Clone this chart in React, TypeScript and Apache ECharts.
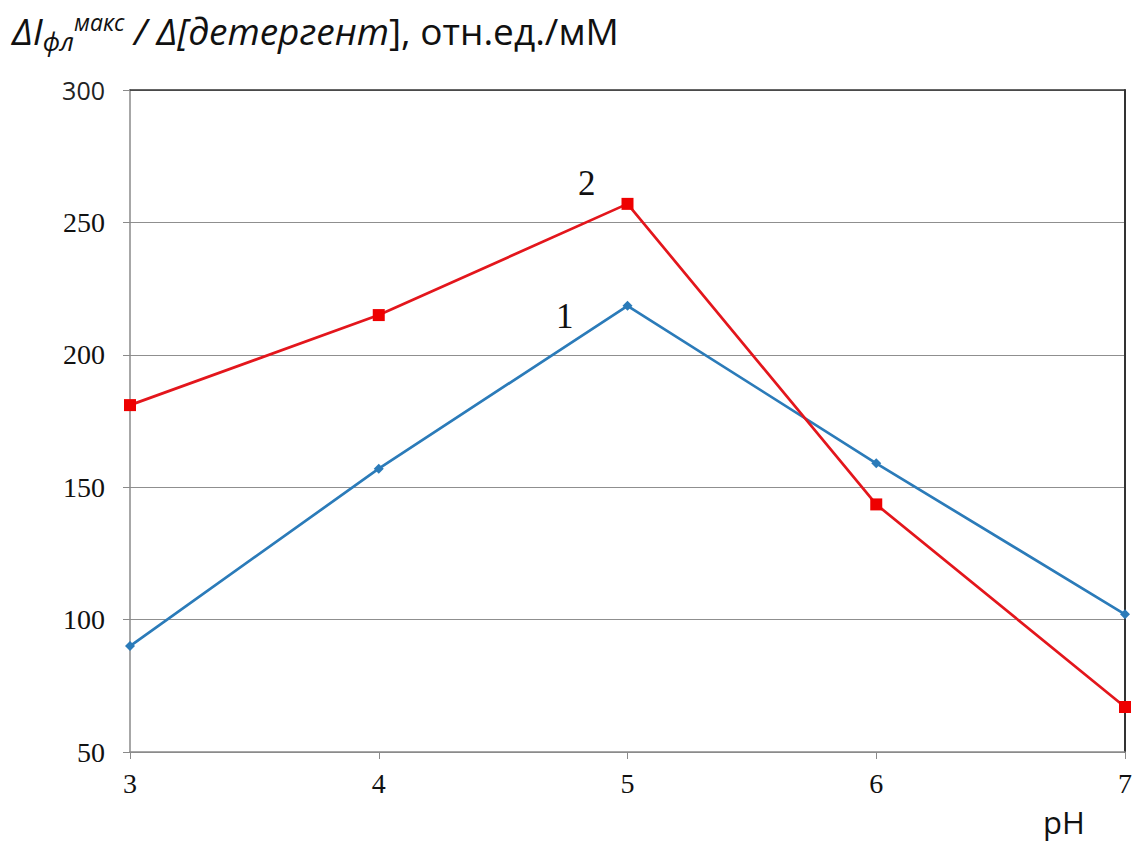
import React, { useEffect, useRef } from "react";
import * as echarts from "echarts";

const phValues = [3, 4, 5, 6, 7];
const series1 = [90, 157, 218.5, 159, 102];
const series2 = [181, 215, 257, 143.5, 67];
const seriesLabels = ["1", "2"];
const yTicks = [50, 100, 150, 200, 250, 300];

export default function App() {
  const ref = useRef<HTMLDivElement>(null);
  useEffect(() => {
    document.body.style.margin = "0";
    const chart = echarts.init(ref.current!, null, { renderer: "svg" });
    const serif = "Liberation Serif, serif";
    const sans = "Open Sans, Noto Sans, sans-serif";
    chart.setOption({
      animation: false,
      backgroundColor: "#ffffff",
      grid: { left: 130, right: 2, top: 90, bottom: 97 },
      xAxis: [
        {
          type: "value",
          min: phValues[0],
          max: phValues[phValues.length - 1],
          interval: 1,
          axisLine: { show: true, lineStyle: { color: "#8a8a8a", width: 1.5 } },
          axisTick: { show: true, length: 7, lineStyle: { color: "#8a8a8a" } },
          axisLabel: { fontFamily: serif, fontSize: 28, color: "#111", margin: 17 },
          splitLine: { show: false },
        },
        {
          type: "value",
          position: "top",
          min: phValues[0],
          max: phValues[phValues.length - 1],
          axisLine: { show: true, lineStyle: { color: "#333", width: 1.5 } },
          axisTick: { show: false },
          axisLabel: { show: false },
          splitLine: { show: false },
        },
      ],
      yAxis: [
        {
          type: "value",
          min: yTicks[0],
          max: yTicks[yTicks.length - 1],
          interval: 50,
          axisLine: { show: true, lineStyle: { color: "#8a8a8a", width: 1.5 } },
          axisTick: { show: true, length: 7, lineStyle: { color: "#8a8a8a" } },
          axisLabel: {
            margin: 25,
            fontSize: 28,
            fontFamily: serif,
            color: "#111",
            formatter: (v: number) => (v === 300 ? `{s|${v}}` : `{t|${v}}`),
            rich: {
              s: { fontFamily: sans, fontSize: 25, color: "#222" },
              t: { fontFamily: serif, fontSize: 28, color: "#111" },
            },
          },
          splitLine: { show: true, lineStyle: { color: "#8f8f8f", width: 1.2 } },
        },
        {
          type: "value",
          position: "right",
          min: yTicks[0],
          max: yTicks[yTicks.length - 1],
          axisLine: { show: true, lineStyle: { color: "#333", width: 2 } },
          axisTick: { show: false },
          axisLabel: { show: false },
          splitLine: { show: false },
        },
      ],
      series: [
        {
          name: seriesLabels[0],
          type: "line",
          data: phValues.map((x, i) => [x, series1[i]]),
          symbol: "diamond",
          symbolSize: 10,
          lineStyle: { color: "#2b7bb9", width: 2.7 },
          itemStyle: { color: "#2b7bb9" },
          label: { show: false },
        },
        {
          name: seriesLabels[1],
          type: "line",
          data: phValues.map((x, i) => [x, series2[i]]),
          symbol: "rect",
          symbolSize: 12,
          lineStyle: { color: "#e3161c", width: 2.7 },
          itemStyle: { color: "#ee0000" },
          label: { show: false },
          z: 3,
        },
      ],
      graphic: [
        {
          type: "text",
          left: 12,
          top: 10,
          style: {
            text:
              "{i|ΔI}{sub|фл}{sup|макс}{i| / Δ[детергент}{n|], отн.ед./мМ}",
            rich: {
              i: { fontFamily: sans, fontStyle: "italic", fontSize: 37, fill: "#111" },
              n: { fontFamily: sans, fontSize: 37, fill: "#111" },
              sub: { fontFamily: sans, fontStyle: "italic", fontSize: 26, fill: "#111", padding: [20, 0, 0, 0] },
              sup: { fontFamily: sans, fontStyle: "italic", fontSize: 23, fill: "#111", padding: [0, 0, 18, 0] },
            },
          },
        },
        {
          type: "text",
          left: 1043,
          top: 806,
          style: { text: "pH", fontFamily: sans, fontSize: 31, fill: "#111" },
        },
        {
          type: "text",
          left: 556,
          top: 299,
          style: { text: seriesLabels[0], fontFamily: serif, fontSize: 35, fill: "#111" },
        },
        {
          type: "text",
          left: 578,
          top: 166,
          style: { text: seriesLabels[1], fontFamily: serif, fontSize: 35, fill: "#111" },
        },
      ],
    });
    return () => chart.dispose();
  }, []);
  return <div ref={ref} style={{ width: 1135, height: 849 }} />;
}
